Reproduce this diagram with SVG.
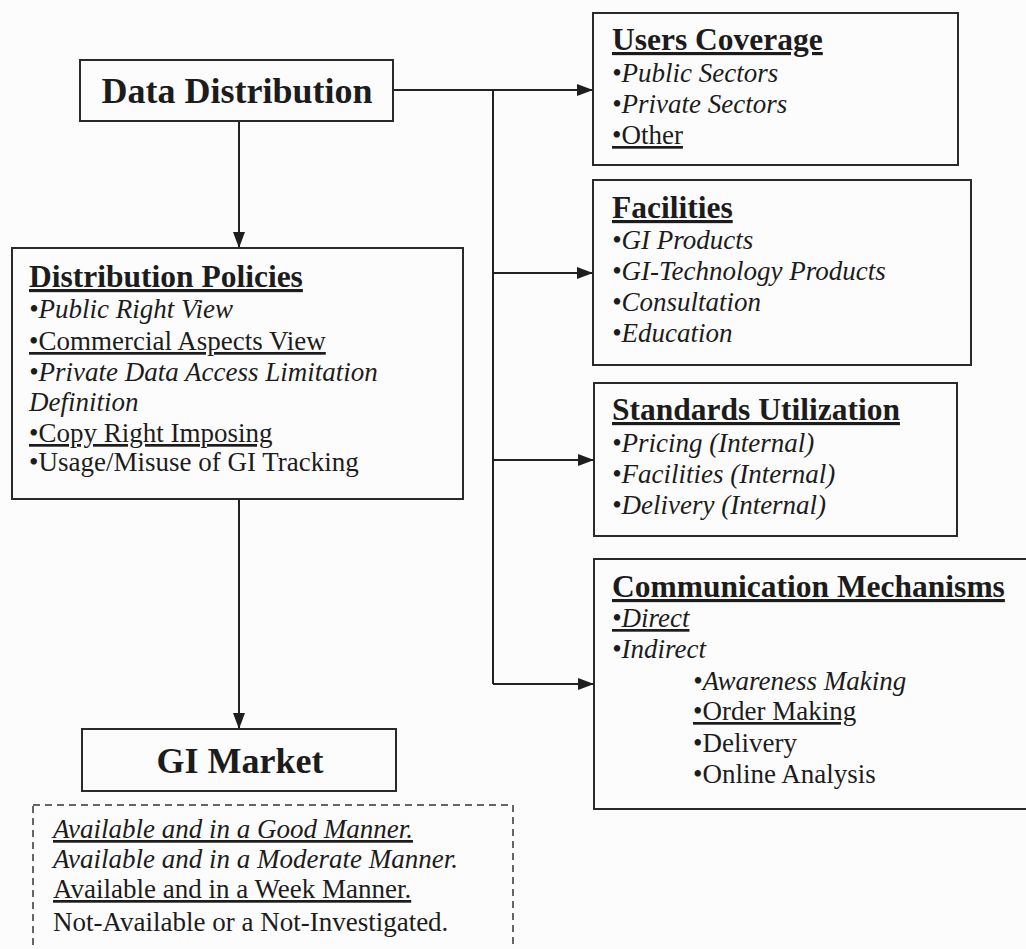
<svg xmlns="http://www.w3.org/2000/svg" width="1026" height="949" viewBox="0 0 1026 949">
<defs>
<marker id="arr" viewBox="0 0 16 12" refX="16" refY="6" markerWidth="16" markerHeight="12" markerUnits="userSpaceOnUse" orient="auto">
<path d="M0,0 L16,6 L0,12 Z" fill="#1e1e1e"/>
</marker>
<style>
.box{fill:none;stroke:#2a2a2a;stroke-width:2}
.dash{fill:none;stroke:#333;stroke-width:1.5;stroke-dasharray:7,5}
.con{fill:none;stroke:#222;stroke-width:2}
text{font-family:"Liberation Serif","Times New Roman",serif;fill:#1c1c1c}
.big{font-size:36px;font-weight:bold}
.ttl{font-size:31.5px;font-weight:bold;text-decoration:underline}
.it{font-size:27px;font-style:italic}
.rg{font-size:27px}
.u{text-decoration:underline}
</style>
</defs>
<rect width="1026" height="949" fill="#fcfcfc"/>

<g id="connectors">
<path class="con" d="M393,90 H593" marker-end="url(#arr)"/>
<path class="con" d="M493,90 V684"/>
<path class="con" d="M493,273 H593" marker-end="url(#arr)"/>
<path class="con" d="M493,460 H594" marker-end="url(#arr)"/>
<path class="con" d="M493,684 H594" marker-end="url(#arr)"/>
<path class="con" d="M239,121 V248" marker-end="url(#arr)"/>
<path class="con" d="M239,499 V729" marker-end="url(#arr)"/>
</g>

<g id="data-distribution">
<rect class="box" x="80" y="60" width="313" height="61"/>
<text class="big" x="237" y="103" text-anchor="middle">Data Distribution</text>
</g>

<g id="distribution-policies">
<rect class="box" x="12" y="248" width="451" height="251"/>
<text class="ttl" x="29" y="287">Distribution Policies</text>
<text class="it" x="29" y="318">•Public Right View</text>
<text class="rg u" x="29" y="350">•Commercial Aspects View</text>
<text class="it" x="29" y="381">•Private Data Access Limitation</text>
<text class="it" x="29" y="411">Definition</text>
<text class="rg u" x="29" y="442">•Copy Right Imposing</text>
<text class="rg" x="29" y="471">•Usage/Misuse of GI Tracking</text>
</g>

<g id="gi-market">
<rect class="box" x="82" y="729" width="314" height="62"/>
<text class="big" x="240" y="773" text-anchor="middle">GI Market</text>
</g>

<g id="legend">
<rect class="dash" x="33" y="805" width="480" height="160"/>
<text class="it u" x="53" y="838"> Available and in a Good Manner.</text>
<text class="it" x="53" y="868">Available and in a Moderate Manner.</text>
<text class="rg u" x="53" y="898">Available and in a Week Manner.</text>
<text class="rg" x="53" y="931">Not-Available or a Not-Investigated.</text>
</g>

<g id="users-coverage">
<rect class="box" x="593" y="13" width="365" height="152"/>
<text class="ttl" x="612" y="50">Users Coverage</text>
<text class="it" x="612" y="82">•Public Sectors</text>
<text class="it" x="612" y="113">•Private Sectors</text>
<text class="rg u" x="612" y="144">•Other</text>
</g>

<g id="facilities">
<rect class="box" x="593" y="180" width="378" height="185"/>
<text class="ttl" x="612" y="218">Facilities</text>
<text class="it" x="612" y="249">•GI Products</text>
<text class="it" x="612" y="280">•GI-Technology Products</text>
<text class="it" x="612" y="311">•Consultation</text>
<text class="it" x="612" y="342">•Education</text>
</g>

<g id="standards-utilization">
<rect class="box" x="594" y="383" width="363" height="153"/>
<text class="ttl" x="612" y="420">Standards Utilization</text>
<text class="it" x="612" y="452">•Pricing (Internal)</text>
<text class="it" x="612" y="483">•Facilities (Internal)</text>
<text class="it" x="612" y="514">•Delivery (Internal)</text>
</g>

<g id="communication-mechanisms">
<rect class="box" x="594" y="559" width="440" height="250"/>
<text class="ttl" x="612" y="597">Communication Mechanisms</text>
<text class="it u" x="612" y="627">•Direct</text>
<text class="it" x="612" y="658">•Indirect</text>
<text class="it" x="693" y="690">•Awareness Making</text>
<text class="rg u" x="693" y="720">•Order Making</text>
<text class="rg" x="693" y="752">•Delivery</text>
<text class="rg" x="693" y="783">•Online Analysis</text>
</g>
</svg>
